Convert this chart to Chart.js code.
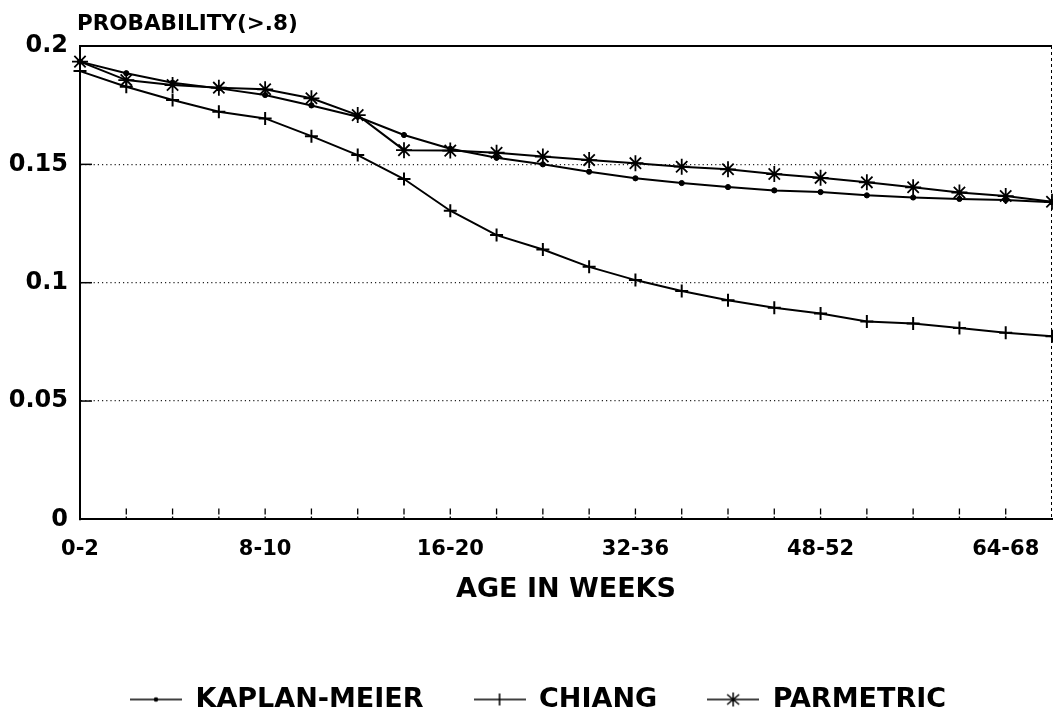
<!DOCTYPE html>
<html>
<head>
<meta charset="utf-8">
<script src="https://cdn.jsdelivr.net/npm/chart.js@4"></script>
<style>
  html, body { margin: 0; padding: 0; background: #fff; }
  #wrap { width: 1053px; height: 715px; }
</style>
</head>
<body>
<div id="wrap"><canvas id="c" width="1053" height="715"></canvas></div>
<script>
// ---- data ----
const ageGroups = ["0-2","2-4","4-6","6-8","8-10","10-12","12-14","14-16","16-20","20-24","24-28","28-32","32-36","36-40","40-44","44-48","48-52","52-56","56-60","60-64","64-68","68-72"];
const shownLabels = ["0-2","8-10","16-20","32-36","48-52","64-68"];
const kaplanMeier = [0.1934,0.1885,0.1845,0.1821,0.1793,0.1749,0.1701,0.1624,0.1566,0.1528,0.1500,0.1469,0.1441,0.1421,0.1404,0.1390,0.1383,0.1369,0.1360,0.1354,0.1349,0.1340];
const chiang = [0.1894,0.1828,0.1772,0.1722,0.1694,0.1619,0.1539,0.1438,0.1304,0.1201,0.1140,0.1067,0.1011,0.0965,0.0926,0.0894,0.0870,0.0836,0.0828,0.0809,0.0789,0.0774];
const parametric = [0.1934,0.1856,0.1835,0.1824,0.1817,0.1779,0.1708,0.1560,0.1558,0.1549,0.1533,0.1518,0.1505,0.1490,0.1479,0.1459,0.1443,0.1424,0.1403,0.1381,0.1366,0.1342];
const yTicks = [0, 0.05, 0.1, 0.15, 0.2];
const seriesNames = ["KAPLAN-MEIER", "CHIANG", "PARMETRIC"];
const yTitle = "PROBABILITY(>.8)";
const xTitle = "AGE IN WEEKS";

const FONT = "'DejaVu Sans', sans-serif";

// legend glyphs: line with marker in the middle
function legendGlyph(kind) {
  const c = document.createElement('canvas');
  c.width = 52; c.height = 18;
  const g = c.getContext('2d');
  g.strokeStyle = '#000'; g.fillStyle = '#000';
  g.lineWidth = 1.6;
  g.beginPath(); g.moveTo(0, 9); g.lineTo(52, 9); g.stroke();
  if (kind === 0) {
    g.beginPath(); g.arc(26, 9, 2.3, 0, Math.PI * 2); g.fill();
  } else if (kind === 1) {
    g.beginPath(); g.moveTo(26, 3); g.lineTo(26, 15); g.stroke();
  } else {
    g.lineWidth = 1.5;
    g.beginPath();
    g.moveTo(26, 2); g.lineTo(26, 16);
    g.moveTo(20, 4); g.lineTo(32, 14);
    g.moveTo(32, 4); g.lineTo(20, 14);
    g.stroke();
  }
  return c;
}
const glyphs = [legendGlyph(0), legendGlyph(1), legendGlyph(2)];

const legendShift = {
  id: 'legendShift',
  afterLayout(chart) {
    const l = chart.legend;
    if (l) { l.left += 12; l.right += 12; }
  }
};

const framePlugin = {
  id: 'frame',
  afterDraw(chart) {
    const { ctx, chartArea: a, scales } = chart;
    const xs = scales.x, ys = scales.y;
    ctx.save();
    ctx.strokeStyle = '#000';
    // top border
    ctx.lineWidth = 2;
    ctx.beginPath(); ctx.moveTo(a.left, a.top); ctx.lineTo(a.right, a.top); ctx.stroke();
    // right border (faint dashed)
    ctx.lineWidth = 1;
    ctx.setLineDash([3, 3]);
    ctx.beginPath(); ctx.moveTo(a.right - 0.5, a.top); ctx.lineTo(a.right - 0.5, a.bottom); ctx.stroke();
    ctx.setLineDash([]);
    // inward y tick marks
    ctx.lineWidth = 1.5;
    yTicks.forEach(v => {
      if (v <= 0 || v >= 0.2) return;
      const y = ys.getPixelForValue(v);
      ctx.beginPath(); ctx.moveTo(a.left, y); ctx.lineTo(a.left + 12, y); ctx.stroke();
    });
    // inward x tick marks
    ctx.lineWidth = 1.3;
    ctx.setLineDash([6, 2]);
    for (let i = 1; i < ageGroups.length - 1; i++) {
      const x = xs.getPixelForValue(i);
      ctx.beginPath(); ctx.moveTo(x, a.bottom - 11); ctx.lineTo(x, a.bottom); ctx.stroke();
    }
    ctx.setLineDash([]);
    // y-axis title (horizontal, above axis)
    ctx.fillStyle = '#000';
    ctx.font = "bold 21.5px " + FONT;
    ctx.textAlign = 'left';
    ctx.textBaseline = 'alphabetic';
    ctx.fillText(yTitle, a.left - 3, a.top - 16);
    ctx.restore();
  }
};

const common = { borderColor: '#000', backgroundColor: '#000', borderWidth: 2, tension: 0, fill: false,
  pointBorderColor: '#000', pointBackgroundColor: '#000', clip: 10 };

new Chart(document.getElementById('c'), {
  type: 'line',
  data: {
    labels: ageGroups,
    datasets: [
      Object.assign({ label: seriesNames[0], data: kaplanMeier, pointStyle: 'circle', pointRadius: 2.6, pointBorderWidth: 1 }, common),
      Object.assign({ label: seriesNames[1], data: chiang, pointStyle: 'cross', pointRadius: 6.5, pointBorderWidth: 2 }, common),
      Object.assign({ label: seriesNames[2], data: parametric, pointStyle: 'star', pointRadius: 8, pointBorderWidth: 1.8 }, common)
    ]
  },
  options: {
    responsive: false,
    animation: false,
    layout: { autoPadding: false, padding: { left: 0, right: 1, top: 46, bottom: -8 } },
    plugins: {
      tooltip: { enabled: false },
      title: { display: false },
      legend: {
        position: 'bottom',
        labels: {
          usePointStyle: true,
          pointStyleWidth: 52,
          boxHeight: 18,
          padding: 50,
          color: '#000',
          font: { family: FONT, size: 27, weight: 'bold' },
          generateLabels(chart) {
            const items = Chart.defaults.plugins.legend.labels.generateLabels(chart);
            items.forEach((it, i) => { it.pointStyle = glyphs[i]; });
            return items;
          }
        }
      }
    },
    scales: {
      x: {
        type: 'category',
        offset: false,
        afterFit(scale) { scale.paddingRight = 0; },
        grid: { display: false, drawTicks: false },
        border: { display: true, color: '#000', width: 2 },
        ticks: {
          autoSkip: false, maxRotation: 0, minRotation: 0, padding: 18, color: '#000',
          font: { family: FONT, size: 21, weight: 'bold' },
          callback(v, i) { const l = ageGroups[i]; return shownLabels.includes(l) ? l : ''; }
        },
        title: { display: true, text: xTitle, color: '#000', padding: { top: -7, bottom: 30 },
          font: { family: FONT, size: 27, weight: 'bold' } }
      },
      y: {
        min: 0, max: 0.2,
        afterFit(scale) { scale.width = 80; },
        afterBuildTicks(scale) { scale.ticks = yTicks.map(v => ({ value: v })); },
        grid: {
          drawTicks: false,
          lineWidth: 1.2,
          color(ctx) { const v = ctx.tick && ctx.tick.value; return (v > 0.001 && v < 0.199) ? '#222' : 'rgba(0,0,0,0)'; }
        },
        border: { display: true, color: '#000', width: 2, dash: [1.2, 3] },
        ticks: {
          padding: 12, color: '#000',
          font: { family: FONT, size: 24, weight: 'bold' },
          callback(v) { return String(v); }
        }
      }
    }
  },
  plugins: [framePlugin, legendShift]
});
</script>
</body>
</html>
